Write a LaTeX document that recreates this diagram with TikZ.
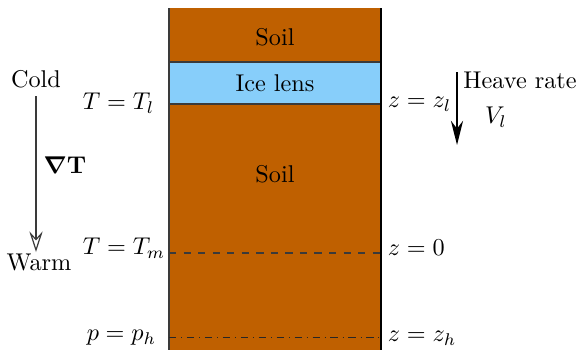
\documentclass[tikz,border=0pt]{standalone}
\usepackage{amsmath}
\usetikzlibrary{arrows.meta,positioning}
\definecolor{soilbrown}{HTML}{BF6000}
\definecolor{iceblue}{HTML}{87CEFA}
\definecolor{edgegray}{HTML}{3A3A3A}

\tikzset{
  levellabel/.style={inner sep=1pt},
  layertext/.style={inner sep=0pt}
}

\begin{document}
\begin{tikzpicture}[x=0.0145cm,y=-0.0145cm]
\useasboundingbox (0,0) rectangle (578,350);
\fill[soilbrown] (169,8) rectangle (381,350);
\filldraw[fill=iceblue, draw=edgegray, line width=0.5pt] (169,62) rectangle (381,104);
\draw[edgegray, line width=0.7pt] (169,8) -- (169,350);
\draw[black, line width=0.7pt] (381,8) -- (381,350);

\node[layertext] (soiltop) at (275,37) {Soil};
\node[layertext] (icelens) at (275,83) {Ice lens};
\node[layertext] (soilmid) at (275,174) {Soil};

\coordinate (melt west) at (169,253);
\coordinate (melt east) at (381,253);
\coordinate (head west) at (169,337);
\coordinate (head east) at (381,337);
\draw[edgegray, dashed, line width=0.5pt] (melt west) -- (melt east);
\draw[black!85, dash dot, line width=0.4pt] (head west) -- (head east);

\node[levellabel, anchor=west] (Tl) at (80,103) {$T = T_l$};
\node[levellabel, anchor=west] (Tm) at (80,248) {$T = T_m$};
\node[levellabel, anchor=east] (ph) at (159,338) {$p = p_h$};
\node[levellabel, anchor=west] (zl) at (385,104) {$z = z_l$};
\node[levellabel, anchor=west] (z0) at (385,248) {$z = 0$};
\node[levellabel, anchor=west] (zh) at (385,338) {$z = z_h$};

\node (cold) at (36,79) {Cold};
\node (warm) at (39,262) {Warm};
\coordinate (grad tip) at (37,252);
\draw[edgegray, line width=0.5pt, -{Stealth[open, length=8.5pt, width=5.5pt, inset=3pt]}] (cold.south) -- (cold.south |- grad tip);
\node (gradT) at (65,165) {$\boldsymbol{\nabla}\mathbf{T}$};

\coordinate (heave top) at (457,72);
\coordinate (heave bot) at (457,145);
\draw[black, line width=0.9pt, -{Stealth[length=10pt, width=5pt]}] (heave top) -- (heave bot);
\node[anchor=west, inner sep=0pt] (heave) at (463,80) {Heave rate};
\node (Vl) at (496,117) {$V_l$};
\end{tikzpicture}
\end{document}
